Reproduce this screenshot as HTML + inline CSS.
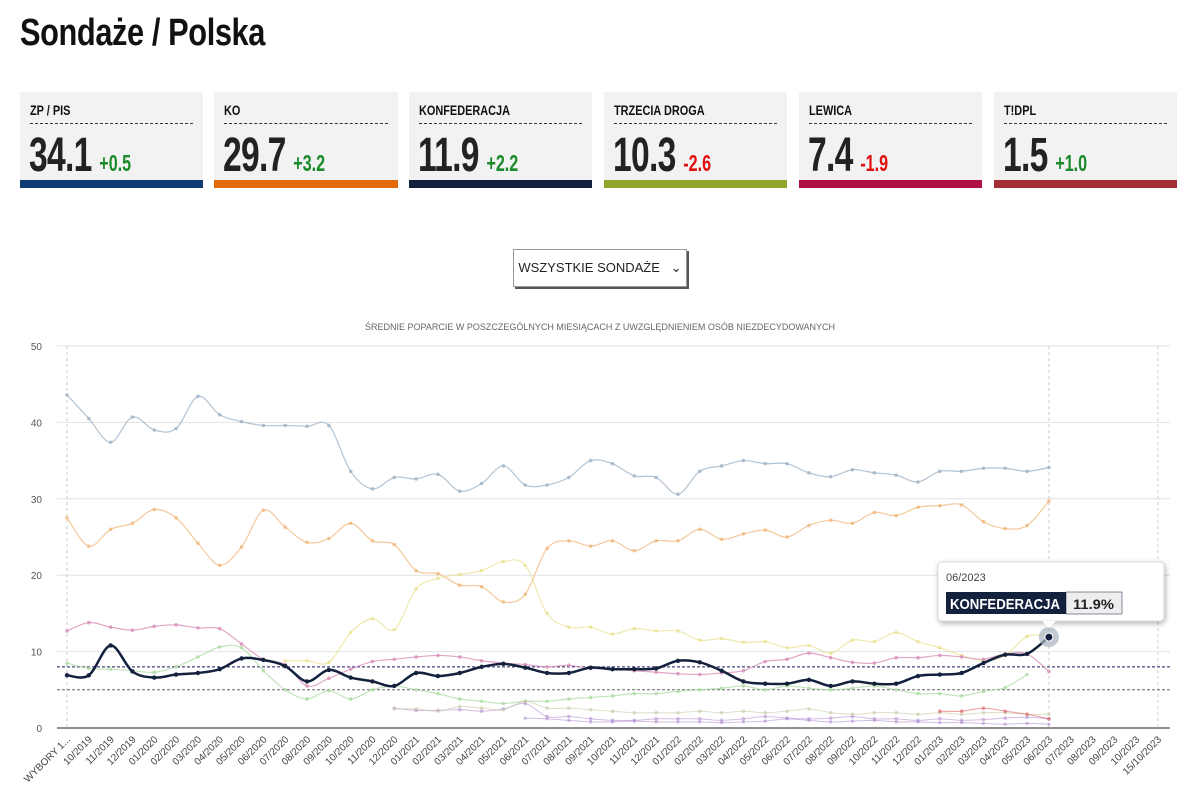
<!DOCTYPE html>
<html><head><meta charset="utf-8">
<style>
body{margin:0;background:#fff;width:1203px;height:812px;overflow:hidden;font-family:"Liberation Sans",sans-serif;}
.sx{display:inline-block;transform-origin:0 50%;white-space:nowrap}
h1{position:absolute;left:20px;top:12px;margin:0;font-size:38px;font-weight:bold;color:#111;letter-spacing:-0.5px}
.card{position:absolute;top:92px;width:183px;height:96px;background:#f2f2f2}
.card .l{position:absolute;left:10px;top:10px;right:10px;font-size:14px;font-weight:bold;color:#111;border-bottom:1px dashed #333;padding-bottom:5px;height:16px}
.card .n{position:absolute;left:9px;top:36px;font-size:48px;font-weight:bold;color:#222;letter-spacing:-1px;transform:scaleX(.7);transform-origin:0 0;white-space:nowrap}
.card .d{font-size:23px;letter-spacing:0;margin-left:11px}
.card .b{position:absolute;left:0;right:0;bottom:0;height:8px}
.g{color:#1a8a2a}.r{color:#e01010}
.sel{position:absolute;left:513px;top:249px;width:172px;height:36px;border:1px solid #999;box-shadow:2px 2px 0 #555;background:#fff;font-size:13px;color:#222;line-height:36px;text-align:center}
</style></head><body>
<h1><span class="sx" style="transform:scaleX(.81)">Sondaże / Polska</span></h1>
<div class="card" style="left:20px"><div class="l"><span class="sx" style="transform:scaleX(.78)">ZP / PIS</span></div><div class="n">34.1<span class="d g">+0.5</span></div><div class="b" style="background:#103c74"></div></div>
<div class="card" style="left:214px;width:184px"><div class="l"><span class="sx" style="transform:scaleX(.78)">KO</span></div><div class="n">29.7<span class="d g">+3.2</span></div><div class="b" style="background:#e06a0c"></div></div>
<div class="card" style="left:409px"><div class="l"><span class="sx" style="transform:scaleX(.78)">KONFEDERACJA</span></div><div class="n">11.9<span class="d g">+2.2</span></div><div class="b" style="background:#13213d"></div></div>
<div class="card" style="left:604px"><div class="l"><span class="sx" style="transform:scaleX(.78)">TRZECIA DROGA</span></div><div class="n">10.3<span class="d r">-2.6</span></div><div class="b" style="background:#92a52a"></div></div>
<div class="card" style="left:799px"><div class="l"><span class="sx" style="transform:scaleX(.78)">LEWICA</span></div><div class="n">7.4<span class="d r">-1.9</span></div><div class="b" style="background:#b0114a"></div></div>
<div class="card" style="left:994px"><div class="l"><span class="sx" style="transform:scaleX(.78)">T!DPL</span></div><div class="n">1.5<span class="d g">+1.0</span></div><div class="b" style="background:#a42e36"></div></div>
<div class="sel">WSZYSTKIE SONDAŻE&nbsp;&nbsp; ⌄</div>
<svg id="c" width="1203" height="812" style="position:absolute;left:0;top:0" font-family="Liberation Sans, sans-serif"></svg>
<script>
var s=document.getElementById('c');var h='';
function Y(v){return 728-7.64*v}function X(i){return 67+21.82*i}
h+='<text x="600" y="330" font-size="9" fill="#666" text-anchor="middle">ŚREDNIE POPARCIE W POSZCZEGÓLNYCH MIESIĄCACH Z UWZGLĘDNIENIEM OSÓB NIEZDECYDOWANYCH</text>';
for(var v=0;v<=50;v+=10){h+='<line x1="57" x2="1170" y1="'+Y(v)+'" y2="'+Y(v)+'" stroke="'+(v?'#e2e2e2':'#222')+'"/>';h+='<text x="42" y="'+(Y(v)+4)+'" font-size="10" fill="#555" text-anchor="end">'+v+'</text>';}
[0,45,50].forEach(function(i){h+='<line x1="'+X(i)+'" x2="'+X(i)+'" y1="346" y2="728" stroke="#ccc" stroke-dasharray="3,3"/>'});
h+='<line x1="57" x2="1170" y1="'+Y(8)+'" y2="'+Y(8)+'" stroke="#1a1a5a" stroke-dasharray="3,2"/>';
h+='<line x1="57" x2="1170" y1="'+Y(5)+'" y2="'+Y(5)+'" stroke="#666" stroke-dasharray="3,2"/>';
function path(st,d){var p=[];for(var i=0;i<d.length;i++)if(d[i]!=null)p.push([X(i+st),Y(d[i])]);var o='M'+p[0][0]+','+p[0][1];for(var i=0;i<p.length-1;i++){var a=p[i-1]||p[i],b=p[i],c=p[i+1],e=p[i+2]||c;o+=' C'+(b[0]+(c[0]-a[0])/6)+','+(b[1]+(c[1]-a[1])/6)+' '+(c[0]-(e[0]-b[0])/6)+','+(c[1]-(e[1]-b[1])/6)+' '+c[0]+','+c[1];}return [o,p];}
function ser(st,d,col,w,op,r){var q=path(st,d);h+='<path d="'+q[0]+'" fill="none" stroke="'+col+'" stroke-width="'+w+'" opacity="'+op+'"/>';q[1].forEach(function(p){h+='<circle cx="'+p[0]+'" cy="'+p[1]+'" r="'+r+'" fill="'+col+'" opacity="'+op+'"/>'});}
var pis=[43.6,40.5,37.4,40.7,39,39.2,43.4,41,40.1,39.6,39.6,39.5,39.6,33.6,31.3,32.8,32.6,33.2,31,32,34.3,31.8,31.8,32.8,35,34.6,33,32.8,30.6,33.6,34.3,35,34.6,34.6,33.4,32.9,33.8,33.4,33.1,32.2,33.6,33.6,34,34,33.6,34.1];
var ko=[27.5,23.8,26,26.8,28.6,27.5,24.2,21.3,23.7,28.5,26.3,24.3,24.8,26.8,24.5,24,20.6,20.2,18.7,18.5,16.5,17.5,23.5,24.5,23.8,24.5,23.2,24.5,24.5,26,24.7,25.4,25.9,25,26.5,27.2,26.8,28.2,27.8,28.9,29.1,29.2,27,26.1,26.5,29.7];
var kon=[6.9,6.9,10.8,7.4,6.6,7,7.2,7.7,9.1,8.9,8.1,6.1,7.6,6.6,6.1,5.5,7.2,6.8,7.2,8,8.4,7.9,7.2,7.2,7.9,7.7,7.7,7.8,8.8,8.6,7.5,6.1,5.8,5.8,6.3,5.5,6.1,5.8,5.8,6.8,7.0,7.2,8.5,9.6,9.7,11.9];
var lew=[12.7,13.8,13.2,12.8,13.3,13.5,13.1,13,11,9,8.3,5.5,6.5,7.7,8.7,9,9.3,9.5,9.3,8.8,8.5,8.3,8,8.2,7.8,7.7,7.5,7.3,7.1,7,7.2,7.5,8.7,9,9.8,9.2,8.6,8.5,9.2,9.2,9.5,9.3,9,9.7,9.7,7.4];
var psl=[8.5,7.8,7.7,7.5,7.3,8,9.3,10.6,10.5,7.5,5,3.8,4.9,3.8,5,5.5,5,4.5,3.8,3.5,3.2,3.5,3.5,3.8,4,4.2,4.5,4.5,4.8,5,5.2,5.5,5,5.5,5.2,5,5.2,5.5,5,4.5,4.5,4.2,4.8,5.3,7];
var p50=[8.8,8.8,8.6,12.5,14.3,12.9,18.2,19.6,20.1,20.6,21.8,21.3,15,13.2,13.2,12.3,13,12.7,12.7,11.5,11.7,11.2,11.3,10.5,10.8,9.8,11.5,11.3,12.5,11.3,10.5,9.5,8.8,9.5,12,12];
ser(0,pis,'#9fb4c8',1.2,0.8,1.8);
ser(0,ko,'#f0b070',1.2,0.7,1.8);
ser(10,p50,'#e8e08a',1.2,0.7,1.8);
ser(0,psl,'#a8d8a0',1.2,0.7,1.8);
ser(0,lew,'#d890b8',1.2,0.8,1.8);
ser(15,[2.6,2.3,2.3,2.4,2.2,2.5,3.2,1.5,1.5,1.2,1,1,1.2,1.2,1.2,1,1.2,1.5,1.3,1.2,1.3,1.5,1.2,1.2,1,1.2,1,1.1,1.3,1.4,1.2],'#c0a0d8',1,0.7,1.8);
ser(15,[2.5,2.5,2.2,2.8,2.6,2.4,3.5,2.6,2.6,2.4,2.2,2,2,2,2.2,2,2.2,2,2.2,2.5,2,1.8,2,2,1.8,2,1.8,2,2,1.8,1.8],'#c8c8a8',1,0.6,1.8);
ser(21,[1.3,1.2,1,0.8,0.8,0.9,0.8,0.8,0.8,0.7,0.8,0.9,1.2,1,0.8,0.9,1.0,0.8,0.8,0.7,0.7,0.6,0.5,0.6,0.5],'#b090d0',1,0.6,1.6);
ser(40,[2.2,2.2,2.6,2.2,1.8,1.2],'#e07070',1,0.7,1.8);
ser(0,kon,'#13213d',2.5,1,2.2);
h+='<circle cx="'+X(45)+'" cy="'+Y(11.9)+'" r="10" fill="#aab2bc" opacity="0.7"/><circle cx="'+X(45)+'" cy="'+Y(11.9)+'" r="4" fill="#13213d" stroke="#fff"/>';
var lb=['WYBORY 1...'];for(var y=2019;y<=2023;y++)for(var m=1;m<=12;m++){if(y==2019&&m<10)continue;if(y==2023&&m>10)continue;lb.push((m<10?'0':'')+m+'/'+y)}lb.push('15/10/2023');
lb.forEach(function(t,i){var x=X(i)+4,y=740;h+='<text x="'+x+'" y="'+y+'" font-size="10" fill="#444" text-anchor="end" transform="rotate(-45 '+x+' '+y+')">'+t+'</text>'});
h+='<g><rect x="938" y="562" width="226" height="59" rx="4" fill="#fff" stroke="#ddd" style="filter:drop-shadow(1px 2px 3px rgba(0,0,0,.3))"/><polygon points="1042,621 1056,621 1049,628" fill="#fff"/><text x="946" y="581" font-size="11" fill="#444">06/2023</text><rect x="946" y="592" width="120" height="22" fill="#13213d"/><text x="950" y="609" font-size="15" font-weight="bold" fill="#fff" textLength="110" lengthAdjust="spacingAndGlyphs">KONFEDERACJA</text><rect x="1066" y="592" width="56" height="22" fill="#eee" stroke="#13213d" stroke-width="0.5"/><text x="1073" y="609" font-size="14" font-weight="bold" fill="#222" textLength="41" lengthAdjust="spacingAndGlyphs">11.9%</text></g>';
s.innerHTML=h;
</script>
</body></html>
